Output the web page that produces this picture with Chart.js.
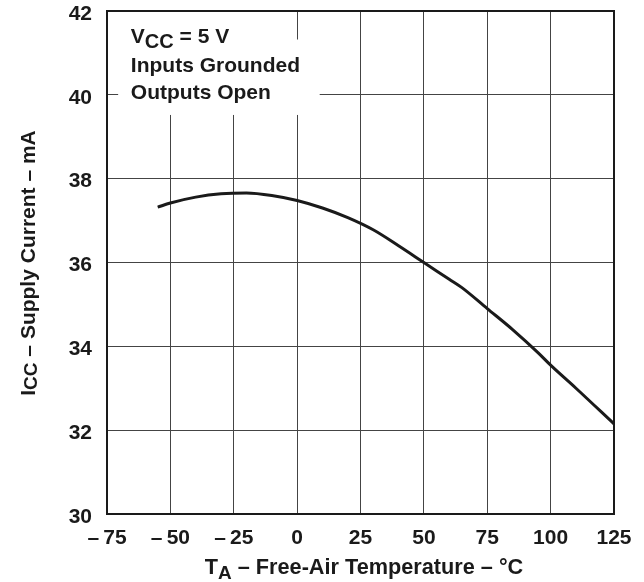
<!DOCTYPE html>
<html><head><meta charset="utf-8">
<script src="https://cdn.jsdelivr.net/npm/chart.js@4"></script>
<style>html,body{margin:0;padding:0;background:#fff}#wrap{width:644px;height:582px}</style>
</head><body><div id="wrap"><canvas id="c" width="644" height="582"></canvas></div>
<script>
const temperatures = [-55, -50, -40, -30, -20, -10, 0, 10, 20, 30, 40, 50, 60, 65, 75, 85, 95, 100, 110, 125];
const supplyCurrent = [37.32, 37.42, 37.56, 37.64, 37.66, 37.6, 37.48, 37.3, 37.07, 36.78, 36.4, 36.0, 35.6, 35.4, 34.9, 34.4, 33.85, 33.55, 33.0, 32.15];
const xTickValues = [-75, -50, -25, 0, 25, 50, 75, 100, 125];
const yTickValues = [30, 32, 34, 36, 38, 40, 42];
const noteLines = ['Inputs Grounded', 'Outputs Open'];

const FONT = '"Liberation Sans", Arial, Helvetica, sans-serif';
const points = temperatures.map((t, i) => ({x: t, y: supplyCurrent[i]}));

function drawPieces(ctx, pieces, x, y) {
  let cx = x;
  for (const p of pieces) {
    ctx.font = 'bold ' + p.size + 'px ' + FONT;
    ctx.fillText(p.text, cx, y + (p.dy || 0));
    cx += ctx.measureText(p.text).width;
  }
}
function piecesWidth(ctx, pieces) {
  let w = 0;
  for (const p of pieces) { ctx.font = 'bold ' + p.size + 'px ' + FONT; w += ctx.measureText(p.text).width; }
  return w;
}

const annotPlugin = {
  id: 'annot',
  beforeDatasetsDraw(chart) {
    const {ctx, scales: {x, y}} = chart;
    ctx.save();
    ctx.fillStyle = '#fff';
    let x0 = x.getPixelForValue(-75) + 1, x1 = x.getPixelForValue(-3);
    let y0 = y.getPixelForValue(42) + 1, y1 = y.getPixelForValue(41.3);
    ctx.fillRect(x0, y0, x1 - x0, y1 - y0);
    x0 = x.getPixelForValue(-70.6); x1 = x.getPixelForValue(8.9);
    y0 = y.getPixelForValue(41.32); y1 = y.getPixelForValue(39.52);
    ctx.fillRect(x0, y0, x1 - x0, y1 - y0);
    ctx.fillStyle = '#1a1a1a';
    ctx.textBaseline = 'alphabetic';
    ctx.textAlign = 'left';
    const tx = x.getPixelForValue(-65.6);
    drawPieces(ctx, [{text: 'V', size: 21}, {text: 'CC', size: 20, dy: 5}, {text: ' = 5 V', size: 21}], tx, 43);
    ctx.font = 'bold 21px ' + FONT;
    ctx.fillText(noteLines[0], tx, 72);
    ctx.fillText(noteLines[1], tx, 99);
    ctx.restore();
  },
  afterDraw(chart) {
    const {ctx, chartArea: a} = chart;
    ctx.save();
    ctx.strokeStyle = '#1a1a1a';
    ctx.lineWidth = 2;
    ctx.strokeRect(a.left, a.top, a.right - a.left, a.bottom - a.top);
    ctx.fillStyle = '#1a1a1a';
    ctx.textBaseline = 'alphabetic';
    ctx.textAlign = 'left';
    const xp = [{text: 'T', size: 21.7}, {text: 'A', size: 19, dy: 5}, {text: ' – Free-Air Temperature – °C', size: 21.7}];
    const xw = piecesWidth(ctx, xp);
    drawPieces(ctx, xp, 364 - xw / 2, 574);
    const yp = [{text: 'I', size: 21}, {text: 'CC', size: 19, dy: 2}, {text: ' – Supply Current – mA', size: 21}];
    const yw = piecesWidth(ctx, yp);
    ctx.translate(35, 263);
    ctx.rotate(-Math.PI / 2);
    drawPieces(ctx, yp, -yw / 2, 0);
    ctx.restore();
  }
};

new Chart(document.getElementById('c'), {
  type: 'line',
  data: {
    datasets: [{
      data: points,
      borderColor: '#1a1a1a',
      borderWidth: 3,
      pointRadius: 0,
      fill: false,
      cubicInterpolationMode: 'monotone'
    }]
  },
  options: {
    responsive: false,
    animation: false,
    devicePixelRatio: 1,
    layout: {padding: {top: 11, right: 30, left: 0, bottom: 0}},
    plugins: {legend: {display: false}, tooltip: {enabled: false}},
    scales: {
      x: {
        type: 'linear', min: -75, max: 125,
        afterBuildTicks: s => { s.ticks = xTickValues.map(v => ({value: v})); },
        afterFit: s => { s.height = 68; s.paddingLeft = 0; s.paddingRight = 0; },
        ticks: {
          color: '#1a1a1a', padding: 14, maxRotation: 0, autoSkip: false,
          font: {family: FONT, size: 21, weight: 'bold', lineHeight: 1},
          callback: v => v < 0 ? '–\u2009' + Math.abs(v) : String(v)
        },
        grid: {color: '#444', lineWidth: 1, drawTicks: false},
        border: {display: true, color: '#1a1a1a', width: 2}
      },
      y: {
        type: 'linear', min: 30, max: 42,
        afterBuildTicks: s => { s.ticks = yTickValues.map(v => ({value: v})); },
        afterFit: s => { s.width = 107; s.paddingTop = 0; s.paddingBottom = 0; },
        ticks: {
          color: '#1a1a1a', padding: 15, autoSkip: false, labelOffset: 3,
          font: {family: FONT, size: 21, weight: 'bold', lineHeight: 1}
        },
        grid: {color: '#444', lineWidth: 1, drawTicks: false},
        border: {display: true, color: '#1a1a1a', width: 2}
      }
    }
  },
  plugins: [annotPlugin]
});
</script>
</body></html>
